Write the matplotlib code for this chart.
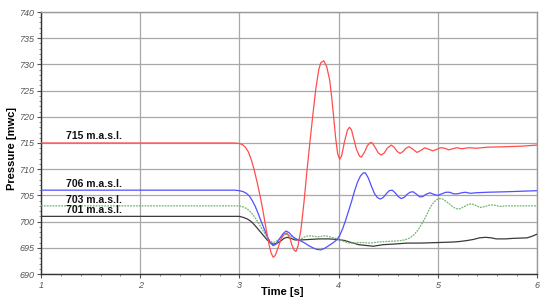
import matplotlib
matplotlib.use("Agg")
import matplotlib.pyplot as plt
from matplotlib.ticker import MultipleLocator

# ---- data ----
red_t = [1.0, 2.9, 2.95, 3.0, 3.03, 3.06, 3.09, 3.12, 3.15, 3.18, 3.21, 3.24, 3.27, 3.30, 3.32, 3.34,
         3.36, 3.39, 3.42, 3.45, 3.48, 3.51, 3.53, 3.55, 3.57, 3.59, 3.62, 3.65, 3.68, 3.71, 3.74,
         3.77, 3.80, 3.82, 3.85, 3.88, 3.91, 3.93, 3.95, 3.97, 3.99, 4.01, 4.03, 4.06, 4.09, 4.11,
         4.13, 4.15, 4.18, 4.21, 4.23, 4.26, 4.29, 4.32, 4.34, 4.37, 4.40, 4.43, 4.46, 4.49, 4.53,
         4.56, 4.59, 4.62, 4.65, 4.68, 4.71, 4.75, 4.79, 4.83, 4.87, 4.91, 4.95, 4.99, 5.03, 5.07,
         5.11, 5.15, 5.19, 5.24, 5.31, 5.39, 5.5, 5.7, 5.85, 6.0]
red_v = [715.0, 715.0, 715.0, 714.9, 714.7, 714.2, 713.3, 711.8, 709.8, 707.4, 704.8, 701.8, 698.5, 695.5, 694.0, 693.2,
         693.5, 695.0, 696.7, 697.6, 697.8, 696.8, 695.5, 694.6, 694.3, 695.3, 698.4, 703.5, 709.5, 715.0, 720.3,
         725.3, 729.0, 730.3, 730.7, 729.6, 727.0, 723.8, 720.0, 716.0, 713.0, 711.9, 712.5, 715.3, 717.5, 718.0,
         717.5, 716.0, 713.8, 712.5, 712.3, 713.2, 714.5, 715.1, 715.0, 714.1, 713.1, 712.7, 713.1, 714.0, 714.6,
         714.2, 713.4, 713.0, 713.4, 714.0, 714.3, 713.8, 713.2, 713.6, 714.1, 713.8, 713.5, 713.8, 714.1, 714.0,
         713.7, 713.9, 714.1, 713.9, 714.1, 714.0, 714.2, 714.3, 714.4, 714.6]

blue_t = [1.0, 2.95, 3.0, 3.04, 3.07, 3.10, 3.13, 3.16, 3.19, 3.22, 3.25, 3.28, 3.31, 3.34, 3.37, 3.40,
          3.44, 3.47, 3.50, 3.54, 3.58, 3.62, 3.66, 3.70, 3.74, 3.78, 3.82, 3.86, 3.90, 3.94, 3.98,
          4.01, 4.04, 4.07, 4.10, 4.13, 4.16, 4.19, 4.22, 4.25, 4.27, 4.30, 4.33, 4.36, 4.39, 4.42,
          4.45, 4.48, 4.51, 4.54, 4.57, 4.60, 4.63, 4.66, 4.69, 4.72, 4.75, 4.78, 4.82, 4.85, 4.88,
          4.92, 4.96, 5.00, 5.04, 5.08, 5.12, 5.16, 5.20, 5.24, 5.28, 5.33, 5.38, 5.5, 5.7, 5.85, 6.0]
blue_v = [706.0, 706.0, 705.9, 705.7, 705.4, 704.9, 704.0, 702.9, 701.5, 700.0, 698.6, 697.2, 696.0, 695.4, 695.7, 696.6,
          697.7, 698.2, 697.9, 697.1, 696.6, 696.3, 695.9, 695.4, 695.0, 694.7, 694.6, 694.9, 695.4, 695.9, 696.5,
          697.3, 698.6, 700.2, 702.0, 703.8, 705.8, 707.5, 708.7, 709.3, 709.3, 708.3, 706.8, 705.4, 704.6, 704.3,
          704.6, 705.3, 705.9, 706.0, 705.5, 704.8, 704.4, 704.6, 705.2, 705.6, 705.7, 705.3, 704.7, 704.8, 705.2,
          705.5, 705.2, 705.0, 705.3, 705.6, 705.6, 705.3, 705.3, 705.5, 705.6, 705.4, 705.5, 705.6, 705.7, 705.8, 705.9]

green_t = [1.0, 2.95, 3.0, 3.04, 3.08, 3.12, 3.16, 3.20, 3.24, 3.28, 3.31, 3.34, 3.37, 3.41, 3.45, 3.48,
           3.51, 3.55, 3.59, 3.63, 3.67, 3.71, 3.75, 3.79, 3.83, 3.87, 3.91, 3.95, 3.99, 4.03, 4.07,
           4.11, 4.15, 4.20, 4.25, 4.32, 4.40, 4.48, 4.58, 4.64, 4.68, 4.72, 4.76, 4.80, 4.84, 4.87,
           4.90, 4.93, 4.96, 4.99, 5.02, 5.05, 5.08, 5.11, 5.14, 5.17, 5.20, 5.23, 5.27, 5.31, 5.34,
           5.38, 5.43, 5.48, 5.53, 5.58, 5.63, 5.7, 5.8, 6.0]
green_v = [703.0, 703.0, 703.0, 702.8, 702.4, 701.7, 700.7, 699.5, 698.2, 697.0, 696.3, 696.0, 696.2, 696.8, 697.4, 697.6,
           697.3, 696.8, 696.6, 696.8, 697.2, 697.3, 697.2, 697.1, 697.2, 697.3, 697.1, 696.9, 696.7, 696.4, 696.1,
           695.9, 695.9, 696.0, 696.0, 695.9, 696.1, 696.2, 696.3, 696.4, 696.6, 696.9, 697.5, 698.4, 699.6, 700.6,
           701.8, 702.9, 703.7, 704.2, 704.4, 704.3, 703.9, 703.5, 703.0, 702.6, 702.4, 702.5, 702.9, 703.3, 703.4,
           703.1, 702.7, 702.9, 703.2, 703.1, 702.9, 703.0, 703.0, 703.0]

black_t = [1.0, 2.95, 3.0, 3.04, 3.08, 3.12, 3.16, 3.20, 3.24, 3.28, 3.31, 3.34, 3.37, 3.41, 3.45, 3.48,
           3.52, 3.56, 3.62, 3.71, 3.81, 3.90, 3.98, 4.06, 4.11, 4.15, 4.20, 4.25, 4.35, 4.45, 4.55,
           4.69, 4.82, 5.0, 5.15, 5.22, 5.30, 5.36, 5.42, 5.48, 5.54, 5.59, 5.68, 5.76, 5.90, 5.95, 6.0]
black_v = [701.0, 701.0, 701.0, 700.8, 700.5, 700.0, 699.2, 698.3, 697.4, 696.5, 696.0, 695.7, 695.8, 696.2, 696.8, 697.0,
           696.8, 696.5, 696.5, 696.6, 696.7, 696.7, 696.6, 696.4, 696.1, 695.9, 695.6, 695.5, 695.3, 695.6, 695.7,
           695.9, 695.9, 696.0, 696.1, 696.2, 696.4, 696.6, 696.9, 697.0, 696.9, 696.7, 696.7, 696.8, 696.9, 697.2, 697.6]

label_texts = ["715 m.a.s.l.", "706 m.a.s.l.", "703 m.a.s.l.", "701 m.a.s.l."]
label_y = [715.3, 706.3, 703.2, 701.2]

x_ticks = [1, 2, 3, 4, 5, 6]
y_ticks = [690, 695, 700, 705, 710, 715, 720, 725, 730, 735, 740]

# ---- figure ----
fig = plt.figure(figsize=(5.5, 3.04), dpi=100)
ax = fig.add_axes([41/550, 1 - 274/304, (537-41)/550, (274-12)/304])

ax.plot(black_t, black_v, color="#3a3a3a", lw=0.9, zorder=3)
ax.plot(green_t, green_v, color="#72b572", lw=0.9, ls=(0, (1.5, 0.8)), zorder=3)
ax.plot(blue_t, blue_v, color="#5050ff", lw=0.9, zorder=4)
ax.plot(red_t, red_v, color="#ff4d4d", lw=0.9, zorder=5)

ax.set_xlim(1, 6)
ax.set_ylim(690, 740)
ax.set_xticks(x_ticks)
ax.set_yticks(y_ticks)
ax.xaxis.set_minor_locator(MultipleLocator(0.2))
ax.yaxis.set_minor_locator(MultipleLocator(1))
ax.grid(True, which="major", color="#a8a8a8", lw=0.9)
ax.set_axisbelow(True)

for lab in ax.get_xticklabels() + ax.get_yticklabels():
    lab.set_fontstyle("italic")
    lab.set_fontsize(6.5)
    lab.set_color("#555555")
    lab.set_fontfamily("Liberation Sans")

ax.tick_params(axis="both", which="major", length=3, width=0.8, color="#555555", pad=2)
ax.tick_params(axis="both", which="minor", length=1.5, width=0.6, color="#777777")

for s in ["left", "bottom"]:
    ax.spines[s].set_color("#333333")
    ax.spines[s].set_linewidth(1.0)
for s in ["top", "right"]:
    ax.spines[s].set_color("#999999")
    ax.spines[s].set_linewidth(1.0)

ax.set_xlabel("Time [s]", fontsize=8, fontweight="bold", family="Liberation Sans")
ax.set_ylabel("Pressure [mwc]", fontsize=8, fontweight="bold", family="Liberation Sans")
ax.xaxis.set_label_coords(0.486, -0.05)
ax.yaxis.set_label_coords(-0.048, 0.48)

for txt, yv in zip(label_texts, label_y):
    ax.text(1.25, yv, txt, fontsize=7.5, fontweight="bold", family="Liberation Sans",
            color="#111111", va="bottom", ha="left", zorder=6)

fig.savefig("out.png", dpi=100)
